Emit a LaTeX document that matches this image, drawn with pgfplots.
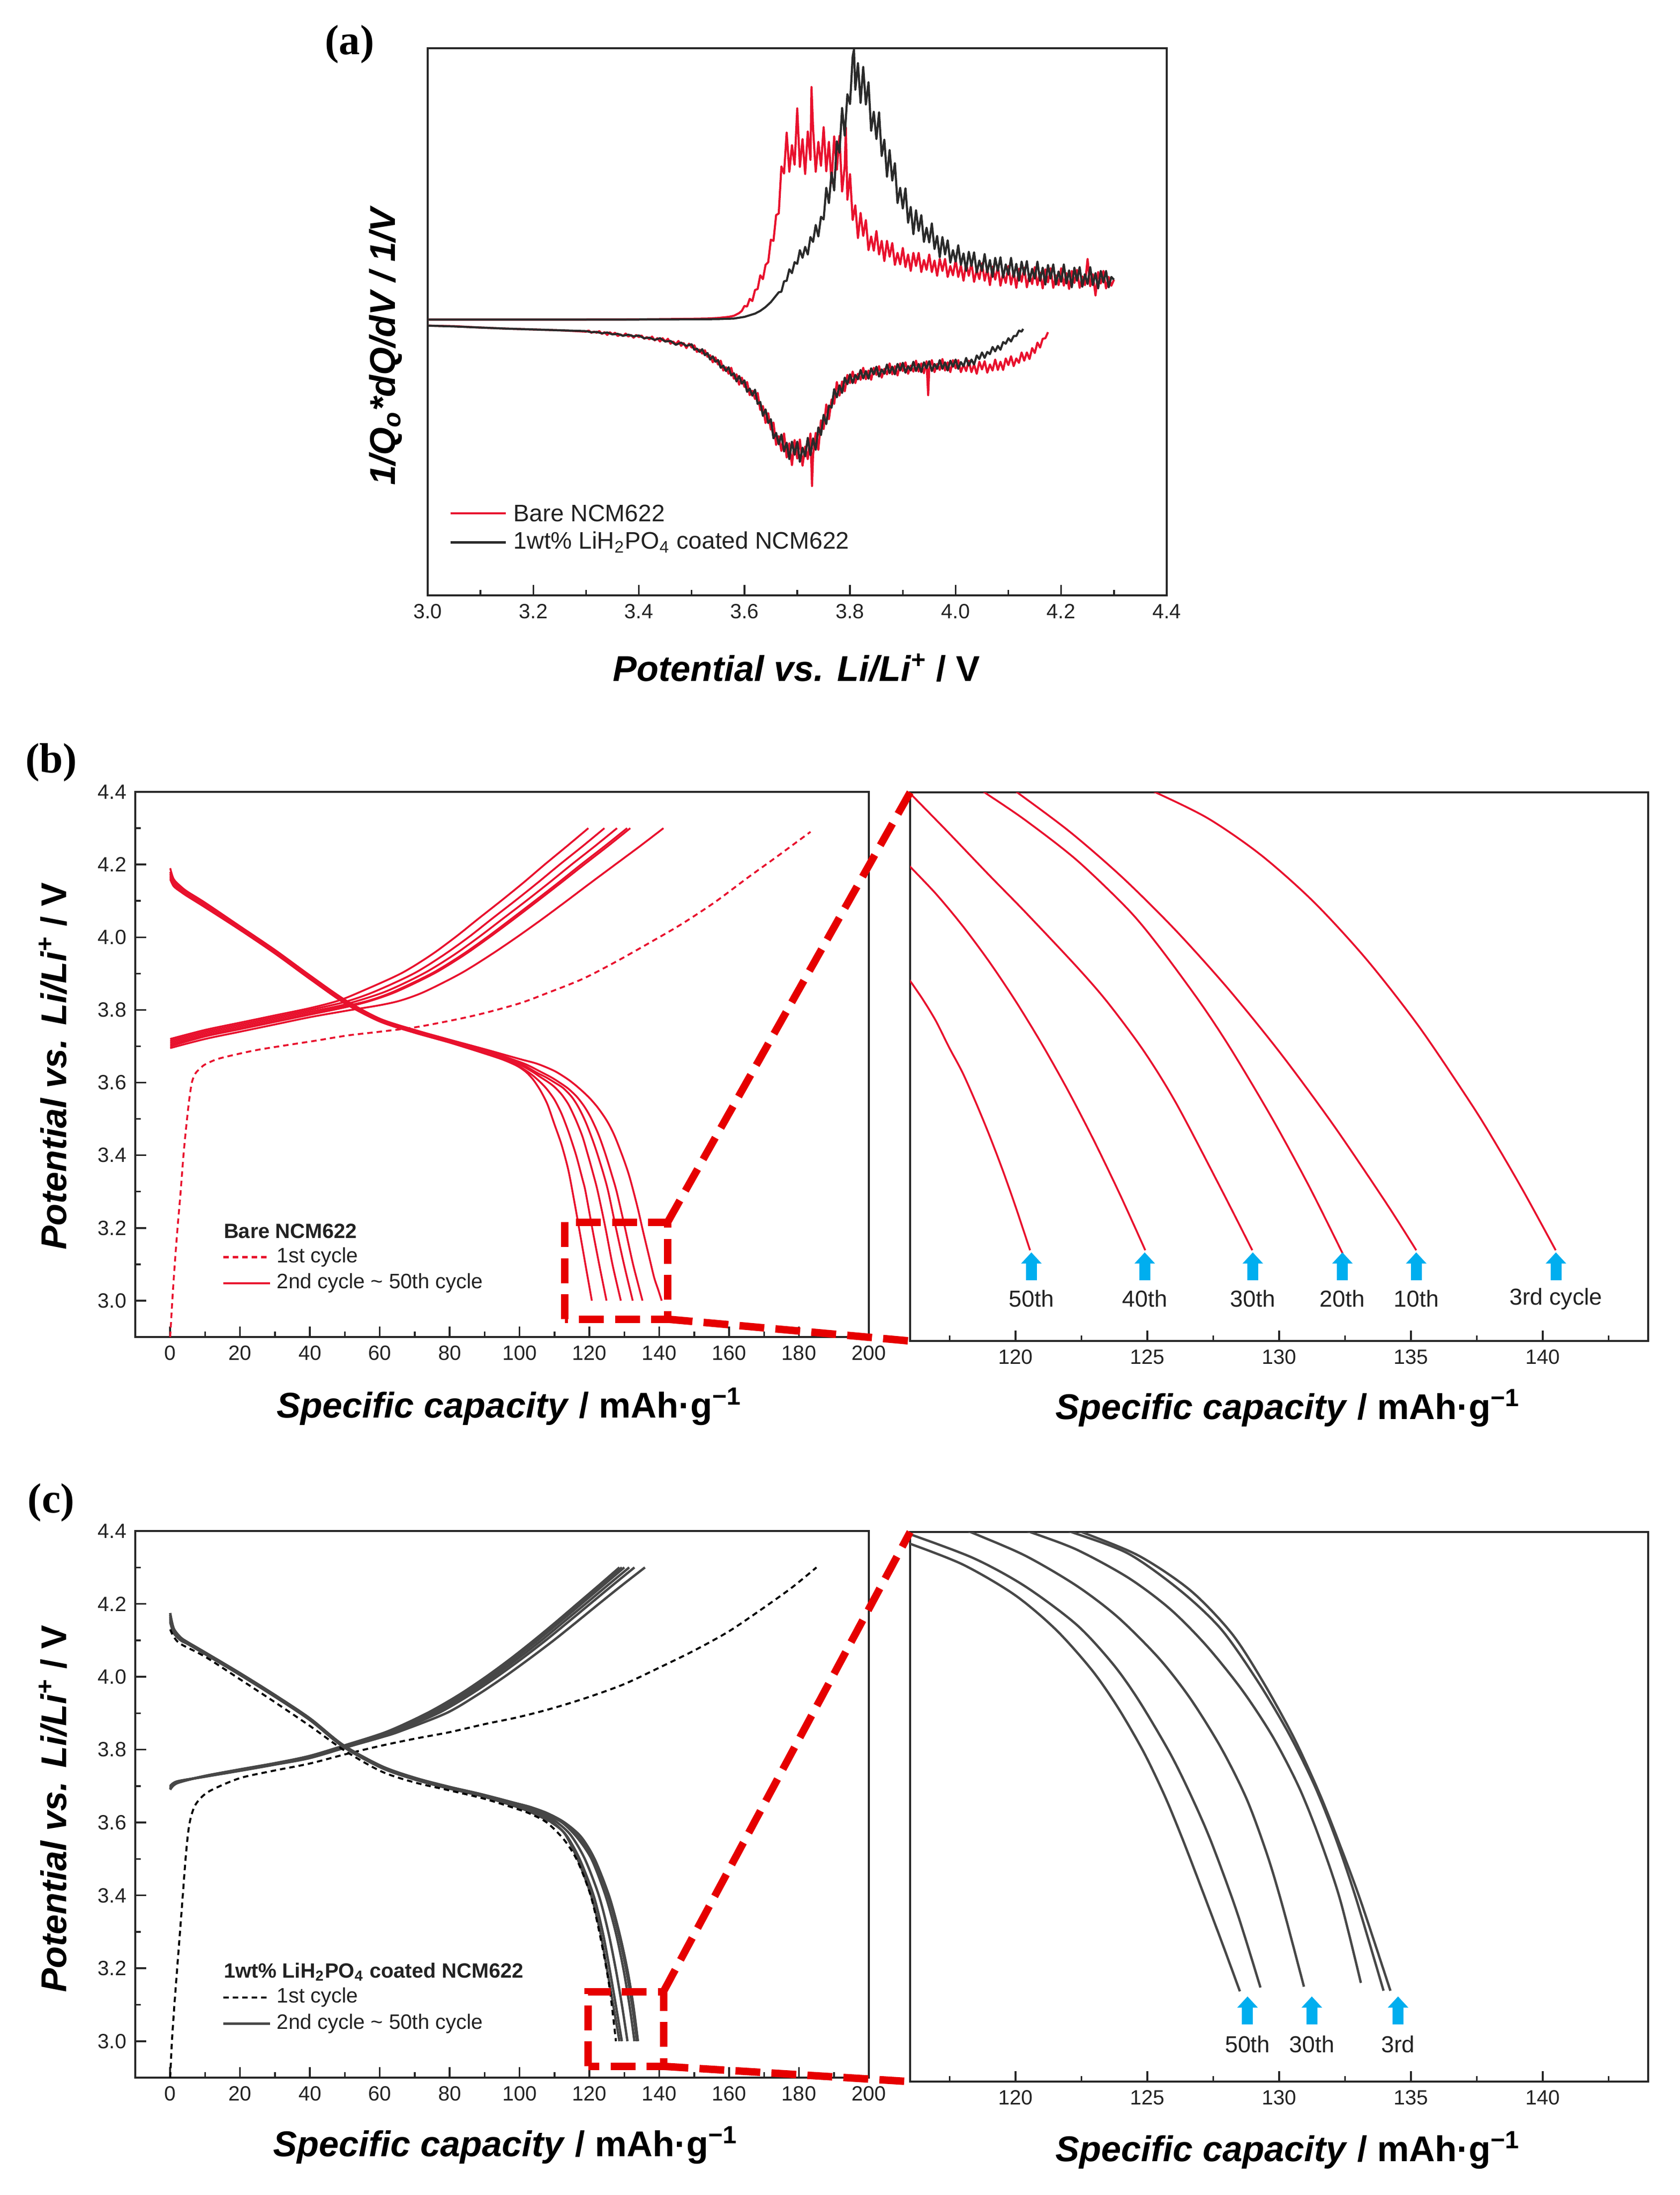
\documentclass[border=0pt]{standalone}
\usepackage{fontspec}
\setmainfont{Liberation Sans}
\newfontfamily\serifbf{Liberation Serif}
\usepackage{pgfplots}
\pgfplotsset{compat=1.18}
\usetikzlibrary{arrows.meta}
\definecolor{bred}{HTML}{E8112D}
\definecolor{zred}{HTML}{E60000}
\definecolor{cblack}{HTML}{2A2A2A}
\definecolor{cgray}{HTML}{474747}
\definecolor{acyan}{HTML}{00AEEF}
\definecolor{txt}{HTML}{222222}
\tikzset{zbox/.style={zred, line width=3pt, dash pattern=on 10pt off 4.5pt}}
\pgfplotsset{
 base/.style={scale only axis, tick align=inside, tick pos=left,
   axis line style={line width=0.9pt, black!85}, tick style={line width=0.7pt, black!85},
   major tick length=4.3pt, minor tick length=2.2pt,
   tick label style={font=\fontsize{8.3}{10}\selectfont, text=txt},
   label style={font=\fontsize{14.4}{17}\selectfont, text=black},
   /pgf/number format/assume math mode=true,
   every axis plot/.append style={line join=round}},
 capx/.style={xmin=-10,xmax=200,ymin=2.9,ymax=4.4, xtick={0,20,...,200}, minor xtick={10,30,...,190},
   ytick={3,3.2,3.4,3.6,3.8,4,4.2,4.4}, minor ytick={3.1,3.3,3.5,3.7,3.9,4.1,4.3},
   yticklabel style={/pgf/number format/.cd, fixed, fixed zerofill, precision=1}, width=295pt,
   xlabel={\textbf{\textit{Specific capacity}} \textbf{/ mAh·g\textsuperscript{−1}}},
   ylabel={\textbf{\textit{Potential vs. Li/Li\textsuperscript{+}}} \textbf{/ V}}},
 zoomx/.style={xmin=116,xmax=144,ymin=2.96,ymax=3.22, xtick={120,125,...,140}, minor xtick={117.5,122.5,...,142.5},
   ytick=\empty, width=296.8pt,
   xlabel={\textbf{\textit{Specific capacity}} \textbf{/ mAh·g\textsuperscript{−1}}}},
 rc/.style={bred, line width=0.75pt, smooth},
 rd/.style={bred, line width=0.75pt, dash pattern=on 2.2pt off 1.6pt, smooth},
 gc/.style={cgray, line width=0.95pt, smooth},
 gd/.style={black, line width=0.8pt, dash pattern=on 2.2pt off 1.6pt, smooth},
 nz/.style={line width=0.85pt},
 arr/.style={acyan, line width=4.4pt, -{Triangle[width=8pt,length=4.5pt]}, forget plot},
}
\begin{document}
\begin{tikzpicture}
\useasboundingbox (0,0) rectangle (675.4pt,-882.6pt);
% ---------------- (a)
\begin{axis}[base, at={(172pt,-19.4pt)}, anchor=north west, width=297.2pt, height=220pt,
  xmin=3, xmax=4.4, ymin=0, ymax=10, xtick={3,3.2,3.4,3.6,3.8,4,4.2,4.4},
  minor xtick={3.1,3.3,3.5,3.7,3.9,4.1,4.3}, ytick=\empty,
  xticklabel style={/pgf/number format/.cd, fixed, fixed zerofill, precision=1},
  xlabel={\textbf{\textit{Potential vs. Li/Li\textsuperscript{+}}} \textbf{/ V}},
  ylabel={\textbf{\textit{1/Q\textsubscript{o}*dQ/dV / 1/V}}},
  xlabel style={at={(axis description cs:0.499,-0.157)}, anchor=base},
  ylabel style={at={(axis description cs:-0.057,0.457)}, anchor=center}]
\addplot[bred, nz] coordinates {(3.0,5.04)(3.1,5.04)(3.2,5.04)(3.3,5.042)(3.4,5.045)(3.45,5.05)(3.5,5.055)(3.53,5.06)(3.55,5.07)(3.56,5.08)(3.57,5.09)(3.58,5.11)(3.59,5.16)(3.595,5.2)
(3.600,5.29)(3.605,5.28)(3.610,5.42)(3.615,5.38)(3.620,5.58)(3.625,5.60)(3.630,5.85)(3.635,5.78)(3.640,6.04)(3.645,6.09)(3.650,6.50)(3.655,6.48)(3.660,6.95)(3.665,6.98)(3.670,7.84)(3.675,7.71)(3.680,8.46)(3.685,7.74)(3.690,8.23)(3.695,7.87)(3.700,8.90)(3.705,7.83)(3.710,8.34)(3.715,7.70)(3.720,8.48)(3.725,7.96)(3.727,9.29)(3.730,8.54)(3.735,7.74)(3.740,8.29)(3.745,7.85)(3.750,8.56)(3.755,7.75)(3.760,8.29)(3.765,7.54)(3.770,8.39)(3.775,7.78)(3.780,8.40)(3.785,7.38)(3.790,7.85)(3.792,8.55)(3.795,7.23)(3.800,7.70)(3.805,6.86)(3.810,7.13)(3.815,6.53)(3.820,6.99)(3.825,6.57)(3.830,6.86)(3.835,6.31)(3.840,6.56)(3.845,6.30)(3.850,6.66)(3.855,6.23)(3.860,6.48)(3.865,6.11)(3.870,6.48)(3.875,6.19)(3.880,6.44)(3.885,6.04)(3.890,6.26)(3.895,6.05)(3.900,6.35)(3.905,6.00)(3.910,6.23)(3.915,5.93)(3.920,6.26)(3.925,6.02)(3.930,6.26)(3.935,5.91)(3.940,6.13)(3.945,5.95)(3.950,6.23)(3.955,5.91)(3.960,6.12)(3.965,5.84)(3.970,6.15)(3.975,5.93)(3.980,6.15)(3.985,5.82)(3.990,6.02)(3.995,5.85)(4.000,6.13)(4.005,5.82)(4.010,6.03)(4.015,5.75)(4.020,6.07)(4.025,5.84)(4.030,6.08)(4.035,5.73)(4.040,5.95)(4.045,5.78)(4.050,6.07)(4.055,5.75)(4.060,5.97)(4.065,5.67)(4.070,6.01)(4.075,5.77)(4.080,6.02)(4.085,5.66)(4.090,5.89)(4.095,5.71)(4.100,6.02)(4.105,5.68)(4.110,5.92)(4.115,5.62)(4.120,5.97)(4.125,5.73)(4.130,5.99)(4.135,5.63)(4.140,5.87)(4.145,5.69)(4.150,6.00)(4.155,5.67)(4.160,5.90)(4.165,5.61)(4.170,5.96)(4.175,5.72)(4.180,5.98)(4.185,5.62)(4.190,5.85)(4.195,5.67)(4.200,5.98)(4.205,5.66)(4.210,5.89)(4.215,5.60)(4.220,5.93)(4.225,5.71)(4.230,5.95)(4.235,5.62)(4.240,5.83)(4.245,5.67)(4.250,6.15)(4.255,5.65)(4.260,5.87)(4.265,5.48)(4.270,5.91)(4.275,5.70)(4.280,5.93)(4.285,5.61)(4.290,5.82)(4.295,5.66)(4.300,5.77)};
\addplot[bred, nz] coordinates {(3.0,4.93)(3.05,4.92)(3.1,4.895)(3.15,4.875)(3.2,4.86)(3.25,4.845)
(3.300,4.82)(3.305,4.84)(3.310,4.80)(3.315,4.82)(3.320,4.80)(3.325,4.83)(3.330,4.78)(3.335,4.81)(3.340,4.76)(3.345,4.81)(3.350,4.77)(3.355,4.80)(3.360,4.74)(3.365,4.77)(3.370,4.74)(3.375,4.785)(3.380,4.73)(3.385,4.76)(3.390,4.71)(3.395,4.76)(3.400,4.72)(3.405,4.75)(3.410,4.69)(3.415,4.72)(3.420,4.68)(3.425,4.73)(3.430,4.66)(3.435,4.70)(3.440,4.64)(3.445,4.70)(3.450,4.64)(3.455,4.69)(3.460,4.60)(3.465,4.64)(3.470,4.59)(3.475,4.65)(3.480,4.56)(3.485,4.61)(3.490,4.52)(3.495,4.60)(3.500,4.53)(3.505,4.57)(3.510,4.45)(3.515,4.49)(3.520,4.42)(3.525,4.48)(3.530,4.36)(3.535,4.39)(3.540,4.26)(3.545,4.35)(3.550,4.22)(3.555,4.29)(3.560,4.11)(3.565,4.17)(3.570,4.05)(3.575,4.16)(3.580,3.96)(3.585,4.04)(3.590,3.85)(3.595,3.98)(3.600,3.81)(3.605,3.90)(3.610,3.66)(3.615,3.74)(3.620,3.59)(3.625,3.70)(3.630,3.39)(3.635,3.46)(3.640,3.15)(3.645,3.33)(3.650,3.03)(3.655,3.16)(3.660,2.75)(3.665,2.91)(3.670,2.64)(3.675,2.96)(3.680,2.52)(3.685,2.78)(3.690,2.38)(3.695,2.84)(3.700,2.50)(3.705,2.85)(3.710,2.37)(3.715,2.72)(3.720,2.49)(3.725,2.96)(3.728,2.00)(3.730,2.57)(3.735,2.97)(3.740,2.66)(3.745,3.20)(3.750,3.04)(3.755,3.49)(3.760,3.22)(3.765,3.58)(3.770,3.50)(3.775,3.90)(3.780,3.65)(3.785,3.91)(3.790,3.73)(3.795,4.03)(3.800,3.88)(3.805,4.09)(3.810,3.88)(3.815,4.05)(3.820,3.94)(3.825,4.16)(3.830,3.95)(3.835,4.11)(3.840,3.94)(3.845,4.16)(3.850,4.03)(3.855,4.19)(3.860,3.98)(3.865,4.14)(3.870,4.04)(3.875,4.24)(3.880,4.04)(3.885,4.19)(3.890,4.02)(3.895,4.24)(3.900,4.10)(3.905,4.26)(3.910,4.05)(3.915,4.20)(3.920,4.09)(3.925,4.29)(3.930,4.09)(3.935,4.24)(3.940,4.06)(3.945,4.28)(3.948,3.66)(3.950,4.14)(3.955,4.30)(3.960,4.08)(3.965,4.23)(3.970,4.12)(3.975,4.32)(3.980,4.11)(3.985,4.26)(3.990,4.08)(3.995,4.30)(4.000,4.15)(4.005,4.30)(4.010,4.08)(4.015,4.22)(4.020,4.10)(4.025,4.29)(4.030,4.08)(4.035,4.22)(4.040,4.05)(4.045,4.27)(4.050,4.13)(4.055,4.28)(4.060,4.07)(4.065,4.22)(4.070,4.11)(4.075,4.31)(4.080,4.12)(4.085,4.27)(4.090,4.12)(4.095,4.33)(4.100,4.21)(4.105,4.37)(4.110,4.19)(4.115,4.33)(4.120,4.25)(4.125,4.44)(4.130,4.29)(4.135,4.44)(4.140,4.32)(4.145,4.52)(4.150,4.43)(4.155,4.62)(4.160,4.53)(4.165,4.69)(4.170,4.70)(4.175,4.81)};
\addplot[cblack, nz] coordinates {(3.0,5.04)(3.2,5.04)(3.4,5.042)(3.5,5.045)(3.55,5.05)(3.58,5.06)(3.60,5.09)(3.62,5.15)(3.63,5.2)(3.64,5.27)(3.65,5.36)(3.655,5.42)(3.66,5.48)(3.665,5.54)
(3.670,5.55)(3.675,5.74)(3.680,5.75)(3.685,5.96)(3.690,5.89)(3.695,6.09)(3.700,6.06)(3.705,6.31)(3.710,6.17)(3.715,6.37)(3.720,6.23)(3.725,6.55)(3.730,6.46)(3.735,6.77)(3.740,6.56)(3.745,6.92)(3.750,6.87)(3.755,7.45)(3.760,7.17)(3.765,7.73)(3.770,7.40)(3.775,8.30)(3.780,8.09)(3.785,8.91)(3.790,8.40)(3.795,9.16)(3.800,8.98)(3.805,9.85)(3.8075,9.98)(3.810,9.24)(3.815,9.73)(3.820,9.00)(3.825,9.66)(3.830,8.97)(3.835,9.38)(3.840,8.49)(3.845,8.84)(3.850,8.34)(3.855,8.83)(3.860,8.03)(3.865,8.33)(3.870,7.65)(3.875,8.14)(3.880,7.58)(3.885,7.90)(3.890,7.17)(3.895,7.45)(3.900,7.07)(3.905,7.44)(3.910,6.81)(3.915,7.10)(3.920,6.60)(3.925,7.04)(3.930,6.66)(3.935,6.95)(3.940,6.46)(3.945,6.72)(3.950,6.45)(3.955,6.80)(3.960,6.33)(3.965,6.57)(3.970,6.18)(3.975,6.55)(3.980,6.23)(3.985,6.49)(3.990,6.08)(3.995,6.31)(4.000,6.10)(4.005,6.40)(4.010,6.04)(4.015,6.25)(4.020,5.93)(4.025,6.28)(4.030,6.02)(4.035,6.27)(4.040,5.90)(4.045,6.12)(4.050,5.93)(4.055,6.24)(4.060,5.90)(4.065,6.13)(4.070,5.82)(4.075,6.17)(4.080,5.93)(4.085,6.18)(4.090,5.81)(4.095,6.05)(4.100,5.86)(4.105,6.17)(4.110,5.82)(4.115,6.06)(4.120,5.75)(4.125,6.10)(4.130,5.86)(4.135,6.11)(4.140,5.74)(4.145,5.97)(4.150,5.79)(4.155,6.10)(4.160,5.75)(4.165,5.99)(4.170,5.68)(4.175,6.04)(4.180,5.79)(4.185,6.05)(4.190,5.68)(4.195,5.92)(4.200,5.73)(4.205,6.05)(4.210,5.70)(4.215,5.94)(4.220,5.63)(4.225,5.99)(4.230,5.75)(4.235,6.00)(4.240,5.64)(4.245,5.87)(4.250,5.69)(4.255,6.00)(4.260,5.67)(4.265,5.89)(4.270,5.61)(4.275,5.93)(4.280,5.72)(4.285,5.93)(4.290,5.63)(4.295,5.82)(4.300,5.77)};
\addplot[cblack, nz] coordinates {(3.0,4.93)(3.05,4.915)(3.1,4.895)(3.15,4.875)(3.2,4.86)(3.25,4.845)(3.3,4.83)
(3.31,4.81)(3.32,4.815)(3.33,4.79)(3.34,4.805)(3.35,4.77)(3.36,4.78)(3.37,4.745)(3.38,4.765)(3.39,4.735)(3.40,4.75)(3.41,4.70)(3.42,4.71)(3.43,4.67)(3.44,4.70)(3.45,4.64)(3.46,4.65)(3.47,4.58)(3.48,4.62)(3.49,4.56)(3.50,4.59)(3.505,4.49)(3.510,4.51)(3.515,4.45)(3.520,4.50)(3.525,4.39)(3.530,4.43)(3.535,4.31)(3.540,4.37)(3.545,4.27)(3.550,4.30)(3.555,4.16)(3.560,4.20)(3.565,4.10)(3.570,4.17)(3.575,4.02)(3.580,4.06)(3.585,3.91)(3.590,4.01)(3.595,3.87)(3.600,3.93)(3.605,3.72)(3.610,3.78)(3.615,3.65)(3.620,3.76)(3.625,3.50)(3.630,3.535)(3.635,3.28)(3.640,3.40)(3.645,3.15)(3.650,3.22)(3.655,2.87)(3.660,2.97)(3.665,2.76)(3.670,2.94)(3.675,2.63)(3.680,2.79)(3.685,2.49)(3.690,2.81)(3.695,2.57)(3.700,2.81)(3.705,2.44)(3.710,2.70)(3.715,2.54)(3.720,2.88)(3.725,2.56)(3.730,2.87)(3.735,2.66)(3.740,3.07)(3.745,2.93)(3.750,3.30)(3.755,3.13)(3.760,3.47)(3.765,3.43)(3.770,3.77)(3.775,3.62)(3.780,3.84)(3.785,3.70)(3.790,3.98)(3.795,3.86)(3.800,4.04)(3.805,3.88)(3.810,4.03)(3.815,3.95)(3.820,4.12)(3.825,3.965)(3.830,4.10)(3.835,3.96)(3.840,4.15)(3.845,4.04)(3.850,4.18)(3.855,4.00)(3.860,4.13)(3.865,4.05)(3.870,4.22)(3.875,4.06)(3.880,4.18)(3.885,4.04)(3.890,4.23)(3.895,4.11)(3.900,4.25)(3.905,4.07)(3.910,4.19)(3.915,4.11)(3.920,4.27)(3.925,4.10)(3.930,4.23)(3.935,4.08)(3.940,4.26)(3.945,4.15)(3.950,4.28)(3.955,4.10)(3.960,4.23)(3.965,4.14)(3.970,4.30)(3.975,4.14)(3.980,4.26)(3.985,4.11)(3.990,4.29)(3.995,4.18)(4.000,4.31)(4.005,4.14)(4.010,4.265)(4.015,4.19)(4.020,4.34)(4.025,4.20)(4.030,4.31)(4.035,4.22)(4.040,4.385)(4.045,4.32)(4.050,4.44)(4.055,4.34)(4.060,4.45)(4.065,4.41)(4.070,4.54)(4.075,4.46)(4.080,4.56)(4.085,4.49)(4.090,4.63)(4.095,4.60)(4.100,4.70)(4.105,4.64)(4.110,4.74)(4.115,4.74)(4.120,4.84)(4.125,4.82)(4.128,4.87)};
\draw[bred, line width=0.9pt] (axis cs:3.043,1.50) -- (axis cs:3.148,1.50);
\node[anchor=west, inner sep=0, font=\fontsize{9.6}{11}\selectfont, text=txt] at (axis cs:3.162,1.50) {Bare NCM622};
\draw[cblack, line width=0.9pt] (axis cs:3.043,0.97) -- (axis cs:3.148,0.97);
\node[anchor=west, inner sep=0, font=\fontsize{9.6}{11}\selectfont, text=txt] at (axis cs:3.162,0.97) {1wt\% LiH\textsubscript{2}PO\textsubscript{4} coated NCM622};
\end{axis}
% ---------------- (b) left
\begin{axis}[base, capx, at={(54.4pt,-318.4pt)}, anchor=north west, height=219.2pt,
  xlabel style={at={(axis description cs:0.51,-0.148)}, anchor=base},
  ylabel style={at={(axis description cs:-0.112,0.497)}, anchor=center}]
\addplot[rd] coordinates {(0,2.9)(0.6,3.0)(1.3,3.1)(2.1,3.2)(2.9,3.29)(3.8,3.4)(4.6,3.48)(5.4,3.55)(6.2,3.6)(7.2,3.625)(8.7,3.64)(10,3.65)(13.6,3.665)(20,3.68)(25,3.69)(30,3.698)(41.4,3.715)(51,3.73)(60,3.74)(70,3.752)(80,3.77)(89,3.789)(100,3.818)(108.1,3.847)(118,3.885)(127.1,3.93)(136,3.978)(146.2,4.035)(156,4.097)(165.2,4.163)(174,4.224)(183.3,4.29)};
\addplot[rc] coordinates {(0,3.72)(10,3.745)(20,3.765)(30,3.785)(40,3.805)(48,3.825)(54.5,3.85)(66.0,3.90)(74.5,3.95)(81.6,4.0)(88.1,4.05)(94.7,4.1)(101.1,4.15)(107.2,4.2)(113.5,4.25)(119.7,4.3)};
\addplot[rc] coordinates {(0,3.715)(10,3.74)(20,3.76)(30,3.78)(40,3.80)(50,3.822)(58.4,3.85)(69.7,3.9)(78.1,3.95)(85.4,4.0)(92.0,4.05)(98.7,4.1)(105.2,4.15)(111.5,4.2)(118.0,4.25)(124.3,4.3)};
\addplot[rc] coordinates {(0,3.71)(10,3.735)(20,3.755)(30,3.775)(40,3.795)(50,3.815)(61.5,3.85)(72.5,3.9)(81.0,3.95)(88.3,4.0)(95.1,4.05)(101.9,4.1)(108.5,4.15)(114.9,4.2)(121.5,4.25)(127.9,4.3)};
\addplot[rc] coordinates {(0,3.705)(10,3.73)(20,3.75)(30,3.77)(40,3.79)(50,3.81)(57,3.826)(63.9,3.85)(74.8,3.9)(83.3,3.95)(90.7,4.0)(97.6,4.05)(104.4,4.1)(111.1,4.15)(117.6,4.2)(124.3,4.25)(130.8,4.3)};
\addplot[rc] coordinates {(0,3.70)(10,3.727)(20,3.747)(30,3.767)(40,3.787)(50,3.807)(57,3.824)(64.7,3.85)(75.5,3.9)(84.0,3.95)(91.4,4.0)(98.4,4.05)(105.2,4.1)(111.9,4.15)(118.5,4.2)(125.2,4.25)(131.7,4.3)};
\addplot[rc] coordinates {(0,3.695)(10,3.72)(20,3.74)(30,3.76)(40,3.78)(50,3.797)(60,3.813)(66,3.826)(72.8,3.85)(83.1,3.9)(91.5,3.95)(99.2,4.0)(106.5,4.05)(113.5,4.1)(120.4,4.15)(127.4,4.2)(134.4,4.25)(141.2,4.3)};
\addplot[rc] coordinates {(0,4.16)(1,4.14)(3,4.125)(5,4.112)(10,4.082)(20,4.02)(30,3.955)(40,3.885)(50,3.818)(60,3.768)(70,3.737)(80,3.71)(90,3.68)(95,3.664)(98,3.652)(100,3.642)(102,3.628)(104,3.607)(106,3.578)(108,3.54)(110,3.485)(112,3.43)(114,3.358)(116,3.256)(118,3.147)(119.5,3.065)(120.7,3.0)};
\addplot[rc] coordinates {(0,4.165)(1,4.145)(3,4.128)(5,4.115)(10,4.085)(20,4.022)(30,3.957)(40,3.887)(50,3.82)(60,3.77)(70,3.739)(80,3.712)(90,3.683)(95,3.665)(99,3.65)(102,3.632)(104,3.618)(106.3,3.598)(108,3.58)(110,3.553)(112,3.515)(114,3.465)(116.2,3.4)(118,3.335)(118.9,3.3)(120.8,3.2)(122.8,3.1)(124.9,3.0)};
\addplot[rc] coordinates {(0,4.17)(1,4.15)(3,4.132)(5,4.118)(10,4.088)(20,4.025)(30,3.96)(40,3.89)(50,3.822)(60,3.772)(70,3.741)(80,3.714)(90,3.686)(96,3.665)(100,3.65)(104,3.628)(106,3.615)(108.4,3.6)(110,3.588)(112,3.568)(114,3.54)(116,3.5)(118,3.452)(119.6,3.4)(121,3.352)(122.4,3.3)(124.6,3.2)(126.6,3.1)(129.0,3.0)};
\addplot[rc] coordinates {(0,4.175)(1,4.153)(3,4.135)(5,4.12)(10,4.09)(20,4.027)(30,3.962)(40,3.892)(50,3.824)(60,3.773)(70,3.742)(80,3.715)(90,3.688)(100,3.653)(105,3.627)(107.5,3.615)(110.1,3.6)(112.5,3.585)(115,3.56)(117,3.53)(119,3.49)(121,3.44)(122.4,3.4)(124,3.35)(125.4,3.3)(127.6,3.2)(129.9,3.1)(132.4,3.0)};
\addplot[rc] coordinates {(0,4.18)(1,4.156)(3,4.137)(5,4.122)(10,4.092)(20,4.028)(30,3.963)(40,3.893)(50,3.826)(60,3.775)(70,3.744)(80,3.717)(90,3.69)(100,3.657)(103,3.645)(106,3.63)(109,3.615)(111.5,3.6)(114,3.583)(116.5,3.56)(118.7,3.532)(120.6,3.5)(122.7,3.455)(124.7,3.4)(126.3,3.35)(127.8,3.3)(130.2,3.2)(132.5,3.1)(135.2,3.0)};
\addplot[rc] coordinates {(0,4.19)(1,4.16)(3,4.14)(5,4.125)(10,4.095)(20,4.03)(30,3.965)(40,3.895)(50,3.828)(60,3.776)(70,3.745)(80,3.718)(90,3.692)(100,3.665)(105,3.652)(110,3.632)(114,3.608)(117,3.585)(120,3.558)(122.5,3.53)(125,3.495)(127,3.458)(129,3.41)(131,3.356)(132.5,3.305)(134,3.248)(135.5,3.185)(137,3.125)(138.5,3.065)(139.7,3.03)(140.7,3.0)};
\node[anchor=west, inner sep=0, font=\fontsize{8.3}{10}\selectfont\bfseries, text=txt] at (axis cs:15.2,3.191) {Bare NCM622};
\draw[bred, line width=0.9pt, dash pattern=on 2.2pt off 1.6pt] (axis cs:15.2,3.12) -- (axis cs:28.6,3.12);
\node[anchor=west, inner sep=0, font=\fontsize{8.4}{10}\selectfont, text=txt] at (axis cs:30.4,3.12) {1st cycle};
\draw[bred, line width=0.9pt] (axis cs:15.2,3.048) -- (axis cs:28.6,3.048);
\node[anchor=west, inner sep=0, font=\fontsize{8.4}{10}\selectfont, text=txt] at (axis cs:30.4,3.048) {2nd cycle \textasciitilde\ 50th cycle};
\draw[zbox] (axis cs:113,2.949) rectangle (axis cs:142.4,3.216);
\coordinate (bTR) at (axis cs:142.4,3.216);
\coordinate (bBR) at (axis cs:142.4,2.949);
\end{axis}
% ---------------- (b) right
\begin{axis}[base, zoomx, name=bR, at={(366pt,-318.6pt)}, anchor=north west, height=220.6pt,
  xlabel style={at={(axis description cs:0.512,-0.143)}, anchor=base}]
\addplot[rc] coordinates {(115.98,3.131)(116.48,3.1219)(116.98,3.1116)(117.48,3.0991)(117.98,3.0874)(118.48,3.0734)(118.98,3.0583)(119.48,3.0420)(119.98,3.0244)(120.55,3.003)};
\addplot[rc] coordinates {(115.98,3.185)(116.98,3.1719)(117.98,3.1569)(118.98,3.1401)(119.98,3.1215)(120.98,3.1011)(121.98,3.0789)(122.98,3.0548)(123.98,3.0289)(124.92,3.003)};
\addplot[rc] coordinates {(115.9,3.221)(116.04,3.219)(117.41,3.2015)(118.98,3.181)(120.35,3.1635)(122.31,3.1375)(123.49,3.1205)(124.86,3.0975)(126.1,3.0725)(127.8,3.032)(128.98,3.003)};
\addplot[rc] coordinates {(118.5,3.2227)(118.82,3.22)(120.35,3.207)(122.31,3.188)(124.27,3.1645)(125.45,3.1468)(127.02,3.1201)(128.2,3.0977)(129.76,3.0649)(131.14,3.0332)(132.41,3.0014)};
\addplot[rc] coordinates {(119.7,3.223)(120.06,3.22)(122.06,3.2013)(124.06,3.1796)(126.06,3.1548)(128.06,3.127)(130.06,3.0962)(132.06,3.0623)(134.06,3.0254)(135.2,3.003)};
\addplot[rc] coordinates {(124.8,3.2225)(125.31,3.22)(127.31,3.2076)(129.31,3.1903)(131.31,3.1681)(133.31,3.1409)(135.31,3.1089)(137.31,3.0719)(138.31,3.0516)(139.31,3.03)(140.49,3.003)};
\addplot[arr] coordinates {(120.6,2.9888)(120.6,3.002)};
\addplot[arr] coordinates {(124.9,2.9888)(124.9,3.002)};
\addplot[arr] coordinates {(129.0,2.9888)(129.0,3.002)};
\addplot[arr] coordinates {(132.4,2.9888)(132.4,3.002)};
\addplot[arr] coordinates {(135.2,2.9888)(135.2,3.002)};
\addplot[arr] coordinates {(140.5,2.9888)(140.5,3.002)};
\begin{scope}[every node/.style={font=\fontsize{9.3}{11}\selectfont, text=txt}]
\node at (axis cs:120.6,2.98) {50th};
\node at (axis cs:124.9,2.98) {40th};
\node at (axis cs:129.0,2.98) {30th};
\node at (axis cs:132.4,2.98) {20th};
\node at (axis cs:135.2,2.98) {10th};
\node at (axis cs:140.5,2.98) {3rd cycle};
\end{scope}
\end{axis}
\draw[zbox] (bTR) -- (bR.north west);
\draw[zbox] (bBR) -- (bR.south west);
% ---------------- (c) left
\begin{axis}[base, capx, at={(54.4pt,-615.6pt)}, anchor=north west, height=219.8pt,
  xlabel style={at={(axis description cs:0.505,-0.144)}, anchor=base},
  ylabel style={at={(axis description cs:-0.112,0.492)}, anchor=center}]
\addplot[gd] coordinates {(0,2.9)(0.5,3.0)(1.2,3.1)(2.0,3.2)(2.8,3.3)(3.6,3.4)(4.4,3.5)(5.1,3.57)(5.8,3.61)(7,3.645)(9,3.67)(12,3.69)(20,3.722)(30,3.743)(40,3.762)(50,3.787)(60,3.81)(70,3.83)(80,3.848)(90,3.87)(100,3.89)(110,3.915)(120,3.945)(130,3.98)(140,4.025)(150,4.072)(160,4.125)(170,4.19)(178,4.245)(185,4.3)};
\addplot[gc] coordinates {(0,3.69)(2,3.708)(10,3.728)(20,3.746)(30,3.763)(40,3.783)(51,3.815)(62.2,3.85)(73.5,3.9)(82.6,3.95)(90.4,4.0)(97.5,4.05)(104.1,4.1)(110.4,4.15)(116.5,4.2)(122.6,4.25)(128.6,4.3)};
\addplot[gc] coordinates {(0,3.692)(2,3.709)(10,3.728)(20,3.745)(30,3.762)(40,3.782)(51,3.814)(62.5,3.85)(74.0,3.9)(83.1,3.95)(90.9,4.0)(98.0,4.05)(104.65,4.1)(110.97,4.15)(117.1,4.2)(123.23,4.25)(129.3,4.3)};
\addplot[gc] coordinates {(0,3.694)(2,3.71)(10,3.727)(20,3.745)(30,3.762)(40,3.781)(51,3.813)(62.9,3.85)(74.5,3.9)(83.6,3.95)(91.4,4.0)(98.5,4.05)(105.2,4.1)(111.5,4.15)(117.7,4.2)(123.85,4.25)(130.0,4.3)};
\addplot[gc] coordinates {(0,3.696)(2,3.711)(10,3.727)(20,3.744)(30,3.761)(40,3.78)(51,3.812)(63.5,3.85)(75.6,3.9)(84.6,3.95)(92.4,4.0)(99.55,4.05)(106.3,4.1)(112.6,4.15)(118.9,4.2)(125.1,4.25)(131.4,4.3)};
\addplot[gc] coordinates {(0,3.698)(2,3.712)(10,3.726)(20,3.743)(30,3.76)(40,3.779)(51,3.81)(64.3,3.85)(76.7,3.9)(85.7,3.95)(93.5,4.0)(100.7,4.05)(107.5,4.1)(113.9,4.15)(120.2,4.2)(126.5,4.25)(132.9,4.3)};
\addplot[gc] coordinates {(0,3.70)(2,3.713)(10,3.726)(20,3.742)(30,3.759)(40,3.777)(51,3.808)(60.5,3.834)(65.7,3.85)(79.0,3.9)(87.9,3.95)(95.7,4.0)(102.9,4.05)(109.8,4.1)(116.3,4.15)(122.7,4.2)(129.2,4.25)(135.9,4.3)};
\addplot[gc] coordinates {(0,4.15)(1,4.12)(3,4.1)(5,4.09)(10,4.062)(20,4.005)(30,3.945)(40,3.881)(49.5,3.808)(60.5,3.75)(70,3.718)(79.5,3.694)(89,3.673)(98.6,3.645)(103.3,3.628)(108.1,3.606)(109.2,3.6)(112.9,3.57)(116.6,3.5)(120.5,3.4)(123.1,3.3)(125.0,3.2)(126.8,3.1)(128.6,3.0)};
\addplot[gc] coordinates {(0,4.155)(1,4.123)(3,4.102)(5,4.091)(10,4.063)(20,4.006)(30,3.946)(40,3.882)(49.5,3.809)(60.5,3.751)(70,3.719)(79.5,3.695)(89,3.674)(98.6,3.646)(103.3,3.63)(108.5,3.608)(109.7,3.6)(113.4,3.565)(117.2,3.5)(121.2,3.4)(123.8,3.3)(125.75,3.2)(127.55,3.1)(129.3,3.0)};
\addplot[gc] coordinates {(0,4.16)(1,4.126)(3,4.104)(5,4.092)(10,4.064)(20,4.007)(30,3.947)(40,3.883)(49.5,3.81)(60.5,3.752)(70,3.72)(79.5,3.696)(89,3.675)(98.6,3.648)(103.3,3.635)(108.1,3.614)(110.8,3.6)(114.7,3.565)(118.7,3.5)(122.7,3.4)(125.4,3.3)(127.5,3.2)(129.3,3.1)(130.9,3.0)};
\addplot[gc] coordinates {(0,4.165)(1,4.128)(3,4.105)(5,4.093)(10,4.065)(20,4.008)(30,3.948)(40,3.884)(49.5,3.811)(60.5,3.753)(70,3.721)(79.5,3.697)(89,3.676)(98.6,3.65)(103.3,3.638)(108.1,3.62)(112.2,3.6)(116.4,3.56)(120.6,3.5)(124.6,3.4)(127.5,3.3)(129.7,3.2)(131.45,3.1)(132.9,3.0)};
\addplot[gc] coordinates {(0,4.17)(1,4.13)(3,4.106)(5,4.094)(10,4.066)(20,4.009)(30,3.949)(40,3.885)(49.5,3.812)(60.5,3.754)(70,3.722)(79.5,3.698)(89,3.677)(98.6,3.652)(103.3,3.64)(108.1,3.622)(112.7,3.6)(117,3.558)(121.2,3.5)(125.3,3.4)(128.2,3.3)(130.45,3.2)(132.2,3.1)(133.6,3.0)};
\addplot[gc] coordinates {(0,4.175)(1,4.133)(3,4.108)(5,4.095)(10,4.067)(20,4.01)(30,3.95)(40,3.886)(49.5,3.813)(60.5,3.755)(70,3.723)(79.5,3.699)(89,3.678)(98.6,3.654)(103.3,3.642)(108.1,3.625)(112.9,3.6)(117.6,3.561)(121.5,3.5)(125.6,3.4)(128.5,3.3)(130.8,3.2)(132.55,3.1)(133.9,3.0)};
\addplot[gd] coordinates {(0,4.13)(1,4.11)(3,4.09)(10,4.055)(20,3.993)(30,3.93)(40,3.865)(50,3.797)(60.5,3.74)(70,3.71)(80,3.688)(90,3.665)(100,3.635)(104,3.62)(108.1,3.598)(112.9,3.551)(116.7,3.492)(120.5,3.395)(123.3,3.278)(125.7,3.151)(127.6,3.0)};
\node[anchor=west, inner sep=0, font=\fontsize{8.3}{10}\selectfont\bfseries, text=txt] at (axis cs:15.2,3.19) {1wt\% LiH\textsubscript{2}PO\textsubscript{4} coated NCM622};
\draw[black, line width=0.9pt, dash pattern=on 2.2pt off 1.6pt] (axis cs:15.2,3.12) -- (axis cs:28.6,3.12);
\node[anchor=west, inner sep=0, font=\fontsize{8.4}{10}\selectfont, text=txt] at (axis cs:30.4,3.12) {1st cycle};
\draw[cgray, line width=0.9pt] (axis cs:15.2,3.048) -- (axis cs:28.6,3.048);
\node[anchor=west, inner sep=0, font=\fontsize{8.4}{10}\selectfont, text=txt] at (axis cs:30.4,3.048) {2nd cycle \textasciitilde\ 50th cycle};
\draw[zbox] (axis cs:119.7,2.931) rectangle (axis cs:141.2,3.136);
\coordinate (cTR) at (axis cs:141.2,3.136);
\coordinate (cBR) at (axis cs:141.2,2.931);
\end{axis}
% ---------------- (c) right
\begin{axis}[base, zoomx, name=cR, at={(366pt,-616pt)}, anchor=north west, height=221pt,
  xlabel style={at={(axis description cs:0.512,-0.145)}, anchor=base}]
\addplot[gc] coordinates {(115.98,3.2145)(118.0,3.2046)(119.96,3.1903)(121.53,3.1738)(122.9,3.1546)(123.88,3.137)(124.86,3.1159)(125.65,3.0954)(126.24,3.0777)(126.82,3.0591)(127.8,3.0268)(128.51,3.0027)};
\addplot[gc] coordinates {(115.98,3.219)(118.39,3.2077)(120.35,3.1944)(122.31,3.1762)(123.69,3.1576)(124.67,3.1404)(125.84,3.1158)(126.63,3.096)(127.41,3.0738)(128.39,3.0405)(129.29,3.0045)};
\addplot[gc] coordinates {(117.8,3.2227)(118.29,3.22)(120.35,3.2089)(122.31,3.1946)(123.88,3.1797)(125.45,3.1601)(126.63,3.1412)(127.8,3.1178)(128.78,3.0933)(129.57,3.0664)(130.16,3.0416)(130.94,3.0049)};
\addplot[gc] coordinates {(120.0,3.2226)(120.55,3.22)(122.31,3.2117)(124.27,3.1984)(125.84,3.1838)(127.22,3.1665)(128.59,3.1453)(129.76,3.1231)(130.75,3.0993)(131.53,3.0751)(132.31,3.0462)(133.1,3.0067)};
\addplot[gc] coordinates {(121.6,3.2225)(122.12,3.22)(124.27,3.2098)(126.24,3.1924)(127.8,3.174)(129.18,3.1495)(130.35,3.125)(131.33,3.1004)(132.12,3.0759)(132.9,3.0473)(133.96,3.003)};
\addplot[gc] coordinates {(122.0,3.2227)(122.51,3.22)(124.67,3.2088)(126.63,3.1924)(128.2,3.172)(129.37,3.1495)(130.55,3.1229)(131.53,3.0963)(132.31,3.0718)(133.1,3.0452)(134.22,3.003)};
\addplot[arr] coordinates {(128.8,2.9871)(128.8,3.0003)};
\addplot[arr] coordinates {(131.24,2.9871)(131.24,3.0003)};
\addplot[arr] coordinates {(134.51,2.9871)(134.51,3.0003)};
\begin{scope}[every node/.style={font=\fontsize{9.3}{11}\selectfont, text=txt}]
\node at (axis cs:128.8,2.9778) {50th};
\node at (axis cs:131.24,2.9778) {30th};
\node at (axis cs:134.51,2.9778) {3rd};
\end{scope}
\end{axis}
\draw[zbox] (cTR) -- (cR.north west);
\draw[zbox] (cBR) -- (cR.south west);
% panel letters
\node[font=\serifbf\bfseries\fontsize{17}{20}\selectfont] at (140.6pt,-17.8pt) {(a)};
\node[font=\serifbf\bfseries\fontsize{17}{20}\selectfont] at (20.6pt,-306.6pt) {(b)};
\node[font=\serifbf\bfseries\fontsize{17}{20}\selectfont] at (20.6pt,-604.2pt) {(c)};
\end{tikzpicture}
\end{document}
